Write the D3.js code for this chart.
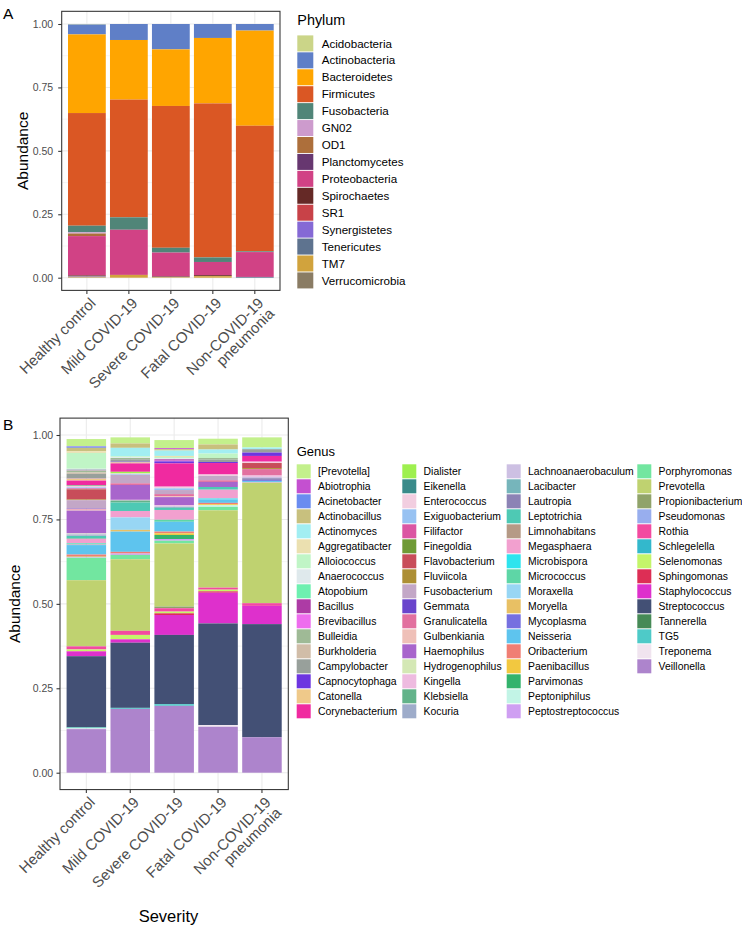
<!DOCTYPE html>
<html><head><meta charset="utf-8">
<script src="https://cdn.jsdelivr.net/npm/d3@7"></script>
<style>
body{margin:0;background:#fff;}
text{font-family:"Liberation Sans", Arial, Helvetica, sans-serif;}
</style>
</head><body>
<svg id="chart" width="742" height="926"></svg>
<script>
// ---------------- DATA ----------------
const categories = ["Healthy control", "Mild COVID-19", "Severe COVID-19", "Fatal COVID-19", "Non-COVID-19\npneumonia"];
const yTicks = [0, 0.25, 0.5, 0.75, 1];
const yTickLabels = ["0.00", "0.25", "0.50", "0.75", "1.00"];

const phylumNames = ["Acidobacteria","Actinobacteria","Bacteroidetes","Firmicutes","Fusobacteria","GN02","OD1","Planctomycetes","Proteobacteria","Spirochaetes","SR1","Synergistetes","Tenericutes","TM7","Verrucomicrobia"];
const phylumColors = ["#CBD588","#5F7FC7","#FFA500","#DA5724","#508578","#CD9BCD","#AD6F3B","#673770","#D14285","#652926","#C84248","#8569D5","#5E738F","#D1A33D","#8A7C64"];

const phylumHealthy  = [0.002,0.039,0.310,0.444,0.026,0.005,0.010,0.000,0.155,0.003,0.001,0.001,0.001,0.002,0.001];
const phylumMild     = [0.000,0.063,0.235,0.464,0.049,0.000,0.000,0.000,0.178,0.000,0.000,0.000,0.000,0.011,0.000];
const phylumSevere   = [0.000,0.100,0.223,0.559,0.019,0.000,0.000,0.000,0.094,0.002,0.000,0.000,0.001,0.002,0.000];
const phylumFatal    = [0.000,0.055,0.258,0.607,0.018,0.000,0.000,0.000,0.052,0.004,0.000,0.000,0.000,0.006,0.000];
const phylumNonCovid = [0.000,0.026,0.375,0.495,0.003,0.000,0.000,0.000,0.098,0.000,0.000,0.000,0.003,0.000,0.000];

const genusNames = ["[Prevotella]","Abiotrophia","Acinetobacter","Actinobacillus","Actinomyces","Aggregatibacter","Alloiococcus","Anaerococcus","Atopobium","Bacillus","Brevibacillus","Bulleidia","Burkholderia","Campylobacter","Capnocytophaga","Catonella","Corynebacterium",
"Dialister","Eikenella","Enterococcus","Exiguobacterium","Filifactor","Finegoldia","Flavobacterium","Fluviicola","Fusobacterium","Gemmata","Granulicatella","Gulbenkiania","Haemophilus","Hydrogenophilus","Kingella","Klebsiella","Kocuria",
"Lachnoanaerobaculum","Lacibacter","Lautropia","Leptotrichia","Limnohabitans","Megasphaera","Microbispora","Micrococcus","Moraxella","Moryella","Mycoplasma","Neisseria","Oribacterium","Paenibacillus","Parvimonas","Peptoniphilus","Peptostreptococcus",
"Porphyromonas","Prevotella","Propionibacterium","Pseudomonas","Rothia","Schlegelella","Selenomonas","Sphingomonas","Staphylococcus","Streptococcus","Tannerella","TG5","Treponema","Veillonella"];
const genusColors = ["#C3F08C","#C450D0","#6A8CF0","#C8C07E","#A2EEF2","#EBE0B0","#C0F5C6","#DFE9EC","#6EF0B0","#AD3BA5","#EE6CEE","#9FBA96","#D1BDA8","#98A09B","#6D35E0","#EFC98A","#F02AA0",
"#9EF04F","#3A8B8A","#F2CEE0","#98C2F2","#DB56A3","#6F9A36","#C84D5A","#AD8F35","#C3A7C7","#6A45CC","#E2709F","#EFC0B8","#A865CC","#D4E8B5","#EEBBE0","#63B38A","#9EACCA",
"#CDC0E3","#76B5BB","#8C83B5","#4EC9B4","#B59A86","#F2A0CF","#2EE4EE","#5ED6A6","#98D6F4","#E8C064","#7670E0","#5EC4EE","#F07E74","#F2C840","#33B36C","#C2F4E6","#CF9FF2",
"#72E6A0","#BFD270","#90A36A","#98AEEE","#F34AA0","#33B8CC","#C4F56A","#DD2E55","#DE30CC","#435075","#468A56","#4ECAC8","#F0E4EF","#AD84CC"];

const genusHealthy = [0.021,0.001,0.004,0.010,0.000,0.005,0.047,0.002,0.001,0.001,0.001,0.006,0.004,0.013,0.001,0.006,0.014,
0.001,0.001,0.004,0.003,0.002,0.001,0.030,0.002,0.025,0.001,0.002,0.003,0.067,0.001,0.001,0.001,0.001,
0.002,0.001,0.001,0.008,0.001,0.012,0.001,0.002,0.001,0.001,0.001,0.028,0.006,0.001,0.001,0.001,0.001,
0.066,0.195,0.001,0.000,0.009,0.000,0.005,0.001,0.014,0.210,0.001,0.003,0.002,0.129];
const genusMild = [0.018,0.000,0.000,0.013,0.025,0.000,0.003,0.002,0.000,0.000,0.000,0.004,0.000,0.007,0.002,0.003,0.025,
0.005,0.000,0.002,0.002,0.000,0.000,0.000,0.000,0.025,0.000,0.005,0.000,0.044,0.000,0.002,0.006,0.000,
0.000,0.000,0.000,0.025,0.000,0.019,0.000,0.000,0.037,0.005,0.000,0.060,0.005,0.000,0.000,0.000,0.004,
0.013,0.212,0.000,0.000,0.012,0.000,0.013,0.000,0.010,0.193,0.000,0.003,0.000,0.189];
const genusSevere = [0.024,0.003,0.000,0.004,0.016,0.003,0.004,0.003,0.000,0.004,0.002,0.000,0.000,0.000,0.006,0.000,0.069,
0.000,0.000,0.005,0.005,0.000,0.000,0.000,0.000,0.012,0.000,0.006,0.003,0.024,0.000,0.003,0.000,0.000,
0.002,0.000,0.002,0.007,0.000,0.029,0.000,0.006,0.000,0.000,0.000,0.029,0.005,0.005,0.012,0.000,0.005,
0.008,0.187,0.005,0.000,0.010,0.000,0.005,0.005,0.059,0.205,0.000,0.005,0.000,0.198];
const genusFatal = [0.017,0.000,0.000,0.015,0.012,0.000,0.013,0.000,0.000,0.000,0.000,0.005,0.000,0.007,0.003,0.000,0.034,
0.000,0.000,0.004,0.000,0.000,0.000,0.000,0.000,0.013,0.000,0.005,0.000,0.015,0.000,0.000,0.000,0.000,
0.000,0.000,0.000,0.008,0.000,0.026,0.003,0.000,0.000,0.000,0.000,0.010,0.004,0.003,0.000,0.005,0.000,
0.010,0.229,0.000,0.000,0.006,0.000,0.005,0.004,0.091,0.301,0.000,0.000,0.005,0.136];
const genusNonCovid = [0.030,0.000,0.000,0.000,0.005,0.000,0.000,0.000,0.000,0.000,0.000,0.000,0.000,0.010,0.010,0.000,0.017,
0.000,0.000,0.004,0.000,0.000,0.000,0.015,0.003,0.000,0.000,0.019,0.000,0.000,0.000,0.004,0.000,0.000,
0.004,0.000,0.005,0.000,0.000,0.000,0.000,0.000,0.000,0.000,0.003,0.003,0.000,0.000,0.000,0.000,0.002,
0.000,0.357,0.000,0.000,0.008,0.000,0.000,0.000,0.054,0.335,0.000,0.000,0.000,0.105];

// ---------------- DRAW ----------------
const svg = d3.select("#chart");
svg.append("rect").attr("width", 742).attr("height", 926).attr("fill", "#fff");

function buildRows(names, valueLists) {
  return categories.map((c, i) => {
    const o = { category: c };
    names.forEach((n, j) => { o[n] = valueLists[i][j]; });
    return o;
  });
}

function drawPanel(o) {
  const g = svg.append("g");
  const x = d3.scaleBand().domain(categories).range([o.left, o.right]).paddingInner(0.1).paddingOuter(0.15);
  const y = d3.scaleLinear().domain([0, 1]).range([o.y0, o.y1]);
  const top = y(1.05), bottom = y(-0.05);

  // grid
  const minor = [0.125, 0.375, 0.625, 0.875];
  g.selectAll(".minor").data(minor).join("line")
    .attr("x1", o.left).attr("x2", o.right).attr("y1", d => y(d)).attr("y2", d => y(d))
    .attr("stroke", "#ebebeb").attr("stroke-width", 0.55);
  g.selectAll(".majy").data(yTicks).join("line")
    .attr("x1", o.left).attr("x2", o.right).attr("y1", d => y(d)).attr("y2", d => y(d))
    .attr("stroke", "#ebebeb").attr("stroke-width", 1.07);
  g.selectAll(".majx").data(categories).join("line")
    .attr("x1", d => x(d) + x.bandwidth() / 2).attr("x2", d => x(d) + x.bandwidth() / 2)
    .attr("y1", top).attr("y2", bottom)
    .attr("stroke", "#ebebeb").attr("stroke-width", 1.07);

  // stacked bars
  const rows = buildRows(o.names, o.values);
  const series = d3.stack().keys(o.names).order(d3.stackOrderReverse)(rows);
  const colorOf = d3.scaleOrdinal().domain(o.names).range(o.colors);
  g.append("g").selectAll("g").data(series).join("g")
    .attr("fill", d => colorOf(d.key))
    .selectAll("rect").data(d => d.filter(p => p[1] - p[0] > 0)).join("rect")
    .attr("x", d => x(d.data.category))
    .attr("width", x.bandwidth())
    .attr("y", d => y(d[1]))
    .attr("height", d => y(d[0]) - y(d[1]));

  // border
  g.append("rect").attr("x", o.left).attr("y", top).attr("width", o.right - o.left).attr("height", bottom - top)
    .attr("fill", "none").attr("stroke", "#333333").attr("stroke-width", 1.07);

  // y axis
  const ya = g.append("g").attr("transform", `translate(${o.left},0)`)
    .call(d3.axisLeft(y).tickValues(yTicks).tickFormat((d, i) => yTickLabels[i]).tickSize(3.5).tickPadding(o.ypad));
  ya.select(".domain").remove();
  ya.selectAll("line").attr("stroke", "#333333").attr("stroke-width", 1.07);
  ya.selectAll("text").attr("fill", "#4d4d4d").attr("font-size", "10.5px")
    .attr("font-family", '"Liberation Sans", Arial, sans-serif');

  // x axis
  const xa = g.append("g").attr("transform", `translate(0,${bottom})`)
    .call(d3.axisBottom(x).tickSize(3.5).tickFormat(""));
  xa.select(".domain").remove();
  xa.selectAll("line").attr("stroke", "#333333").attr("stroke-width", 1.07);
  const lab = g.append("g").selectAll("text").data(categories).join("text")
    .attr("transform", d => `translate(${x(d) + x.bandwidth() / 2 + 2},${bottom + 6}) rotate(-45)`)
    .attr("text-anchor", "end").attr("fill", "#4d4d4d").attr("font-size", "15px");
  lab.each(function (d) {
    const lines = d.split("\n");
    const t = d3.select(this);
    lines.forEach((ln, i) => {
      t.append("tspan").attr("x", 0).attr("dy", i === 0 ? "0.72em" : "1.0em").text(ln);
    });
  });

  // y title
  g.append("text").attr("transform", `translate(${o.ytitleX},${(top + bottom) / 2}) rotate(-90)`)
    .attr("text-anchor", "middle").attr("font-size", "15.5px").attr("fill", "#000").text("Abundance");

  // panel tag
  g.append("text").attr("x", 3).attr("y", o.tagY).attr("font-size", "15.5px").attr("fill", "#000").text(o.tag);
}

drawPanel({
  tag: "A", tagY: 18.5,
  left: 61.7, right: 280, y0: 277.7, y1: 24, ypad: 5, ytitleX: 28,
  names: phylumNames, colors: phylumColors,
  values: [phylumHealthy, phylumMild, phylumSevere, phylumFatal, phylumNonCovid]
});
drawPanel({
  tag: "B", tagY: 429.5,
  left: 60, right: 288.3, y0: 772.7, y1: 435, ypad: 3.3, ytitleX: 20,
  names: genusNames, colors: genusColors,
  values: [genusHealthy, genusMild, genusSevere, genusFatal, genusNonCovid]
});

// x title for bottom panel
svg.append("text").attr("x", 168.5).attr("y", 921.5).attr("text-anchor", "middle")
  .attr("font-size", "16.5px").attr("fill", "#000").text("Severity");

// ---------------- LEGENDS ----------------
// Phylum legend
const legA = svg.append("g");
legA.append("text").attr("x", 297.3).attr("y", 24.7).attr("font-size", "14.4px").attr("fill", "#000").text("Phylum");
const legAItems = legA.selectAll("g").data(phylumNames).join("g")
  .attr("transform", (d, i) => `translate(297.3,${35 + i * 16.93})`);
legAItems.append("rect").attr("width", 16).attr("height", 16).attr("y", 0.4)
  .attr("fill", (d, i) => phylumColors[i]);
legAItems.append("text").attr("x", 24.4).attr("y", 8.5).attr("dy", "0.35em")
  .attr("font-size", "11.6px").attr("fill", "#000").text(d => d);

// Genus legend
const legB = svg.append("g");
legB.append("text").attr("x", 296.7).attr("y", 456).attr("font-size", "13px").attr("fill", "#000").text("Genus");
const colX = [296.7, 402.3, 506.7, 637.3];
const perCol = 17;
const legBItems = legB.selectAll("g").data(genusNames).join("g")
  .attr("transform", (d, i) => `translate(${colX[Math.floor(i / perCol)]},${464.3 + (i % perCol) * 15})`);
legBItems.append("rect").attr("width", 14).attr("height", 14)
  .attr("fill", (d, i) => genusColors[i]);
legBItems.append("text").attr("x", 21.3).attr("y", 7).attr("dy", "0.35em")
  .attr("font-size", "10.4px").attr("fill", "#000").text(d => d);
</script>
</body></html>
